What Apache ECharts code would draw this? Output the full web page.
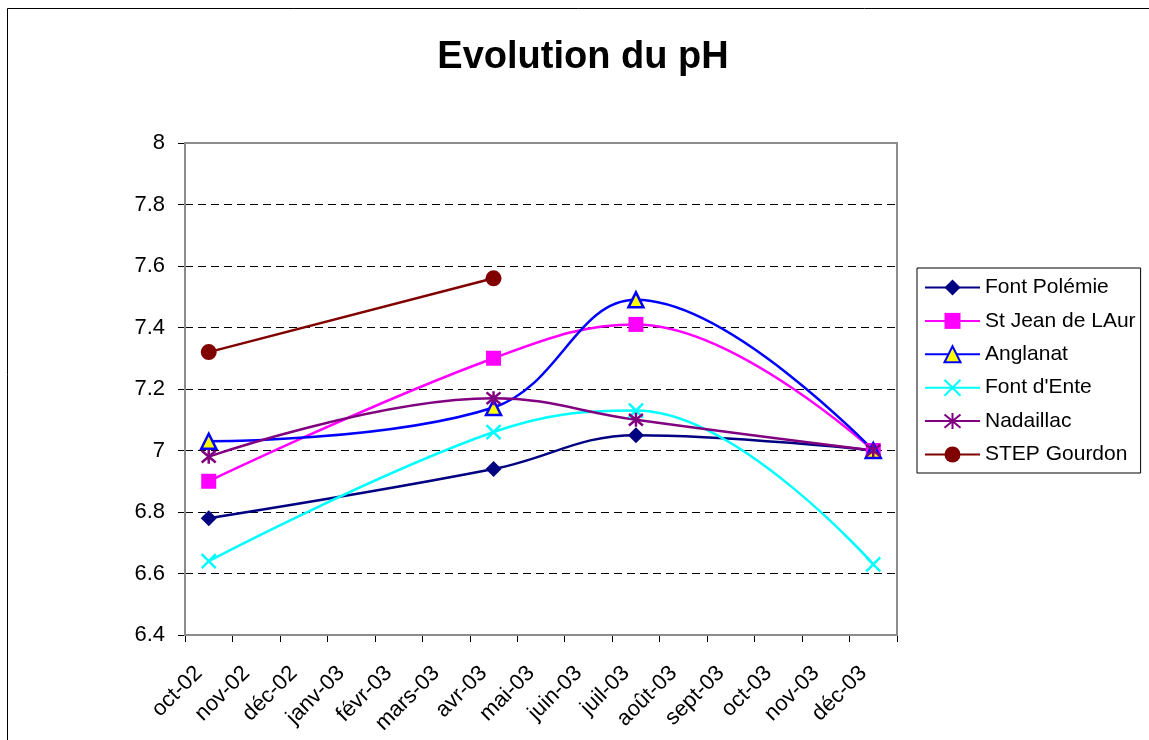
<!DOCTYPE html>
<html>
<head>
<meta charset="utf-8">
<script src="https://cdn.jsdelivr.net/npm/echarts@6/dist/echarts.min.js"></script>
<style>html,body{margin:0;padding:0;background:#fff}#c{width:1149px;height:740px}</style>
</head>
<body>
<div id="c"></div>
<script>
const months = ['oct-02','nov-02','déc-02','janv-03','févr-03','mars-03','avr-03','mai-03','juin-03','juil-03','août-03','sept-03','oct-03','nov-03','déc-03'];
const fontPolemie = [6.78,null,null,null,null,null,6.94,null,null,7.05,null,null,null,null,7.00];
const stJean      = [6.90,null,null,null,null,null,7.30,null,null,7.41,null,null,null,null,7.00];
const anglanat    = [7.03,null,null,null,null,null,7.14,null,null,7.49,null,null,null,null,7.00];
const fontDEnte   = [6.64,null,null,null,null,null,7.06,null,null,7.13,null,null,null,null,6.63];
const nadaillac   = [6.98,null,null,null,null,null,7.17,null,null,7.10,null,null,null,null,7.00];
const stepGourdon = [7.32,null,null,null,null,null,7.56,null,null,null,null,null,null,null,null];
const yTicks = [6.4, 8, 0.2];

const FONT = '"Liberation Sans", Arial, sans-serif';
const xPath = 'path://M0,0L10,10M10,0L0,10';
const starPath = 'path://M0,0L10,10M10,0L0,10M5,-1L5,11';

function mk(name, data, color, symbol, size, extra) {
  return Object.assign({
    name, type: 'line', data, connectNulls: true, smooth: 0.4,
    symbol, symbolSize: size,
    lineStyle: { color, width: 2.5 },
    itemStyle: { color, borderColor: color, borderWidth: 0 },
    emphasis: { disabled: true }
  }, extra || {});
}

const chart = echarts.init(document.getElementById('c'), null, { renderer: 'canvas' });
chart.setOption({
  animation: false,
  backgroundColor: '#fff',
  textStyle: { fontFamily: FONT },
  title: {
    text: 'Evolution du pH', left: 578, top: 34, textAlign: 'center',
    textStyle: { fontFamily: FONT, fontSize: 38, fontWeight: 'bold', color: '#000' }
  },
  graphic: [
    { type: 'rect', shape: { x: 7.5, y: 8.5, width: 1200, height: 800 }, style: { fill: 'none', stroke: '#000', lineWidth: 1 }, silent: true },
    { type: 'rect', shape: { x: 185, y: 143, width: 712, height: 492 }, style: { fill: 'none', stroke: '#8c8c8c', lineWidth: 2 }, silent: true, z: 1 }
  ],
  legend: {
    orient: 'vertical', left: 917, top: 268,
    padding: [9, 5, 8, 7],
    borderColor: '#000', borderWidth: 1,
    itemWidth: 55, itemHeight: 20, itemGap: 12.4,
    textStyle: { fontFamily: FONT, fontSize: 21, lineHeight: 21, color: '#000' },
    data: ['Font Polémie','St Jean de LAur','Anglanat',"Font d'Ente",'Nadaillac','STEP Gourdon']
  },
  grid: { left: 185, top: 143, right: 252, bottom: 105, containLabel: false },
  xAxis: {
    type: 'category', data: months, boundaryGap: true,
    axisLine: { lineStyle: { color: '#404040', width: 2 } },
    axisTick: { show: true, length: 7, interval: 0, lineStyle: { color: '#000', width: 1 } },
    axisLabel: { interval: 0, rotate: 45, margin: 25, padding: [0, 14, 0, 0], fontFamily: FONT, fontSize: 22, color: '#000' },
    splitLine: { show: false }
  },
  yAxis: {
    type: 'value', min: yTicks[0], max: yTicks[1], interval: yTicks[2],
    axisLine: { show: true, lineStyle: { color: '#404040', width: 2 } },
    axisTick: { show: true, length: 7, lineStyle: { color: '#000', width: 1 } },
    axisLabel: { margin: 20, fontFamily: FONT, fontSize: 22, color: '#000',
      formatter: v => (Math.round(v * 10) / 10).toString() },
    splitLine: { show: true, lineStyle: { color: '#000', type: [8, 5], width: 1 } }
  },
  series: [
    mk('Font Polémie', fontPolemie, '#000080', 'diamond', 16),
    mk('St Jean de LAur', stJean, '#FF00FF', 'rect', 15),
    mk('Anglanat', anglanat, '#0000FF', 'triangle', 15, { itemStyle: { color: '#FFFF00', borderColor: '#0000FF', borderWidth: 2.5 } }),
    mk("Font d'Ente", fontDEnte, '#00FFFF', xPath, 14, { itemStyle: { color: 'none', borderColor: '#00FFFF', borderWidth: 2.5 } }),
    mk('Nadaillac', nadaillac, '#800080', starPath, 14, { itemStyle: { color: 'none', borderColor: '#800080', borderWidth: 2.5 } }),
    mk('STEP Gourdon', stepGourdon, '#800000', 'circle', 16, { smooth: false })
  ]
});
</script>
</body>
</html>
